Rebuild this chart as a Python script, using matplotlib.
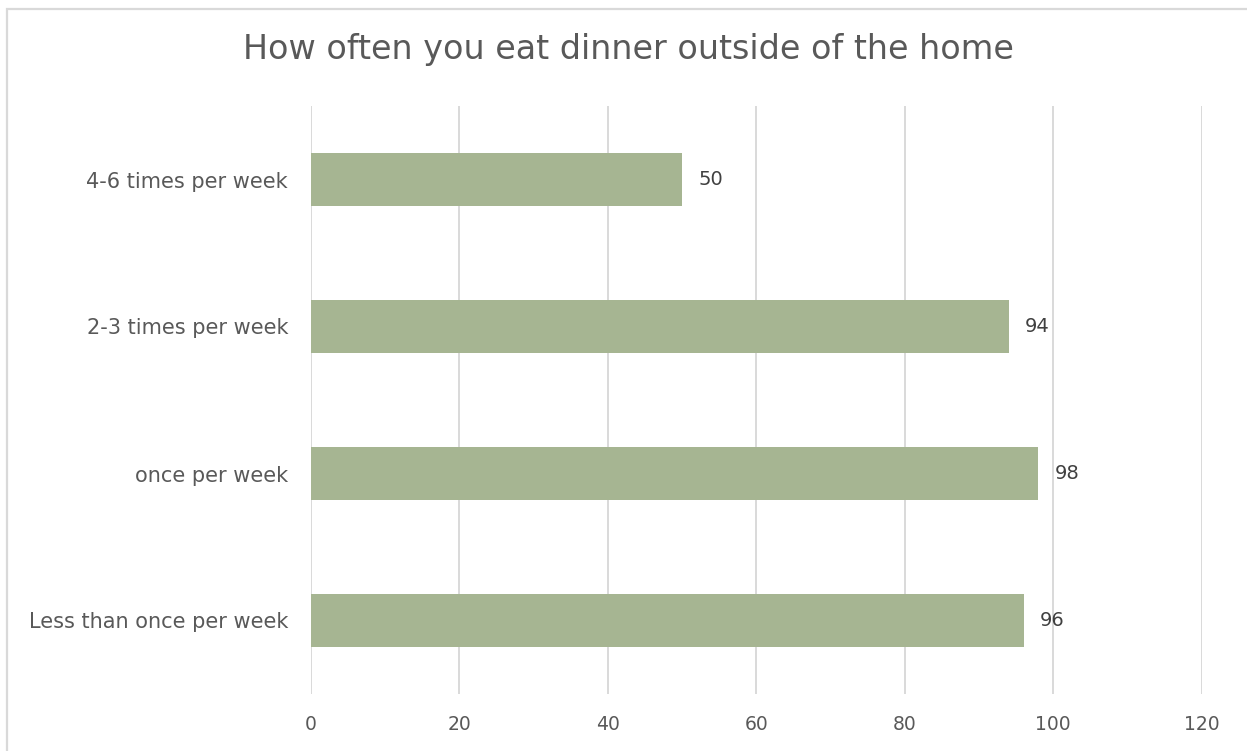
import numpy as np
import matplotlib.pyplot as plt
from matplotlib.patches import Rectangle

# Survey: frequency of eating dinner away from home
categories = ["4-6 times per week", "2-3 times per week", "once per week", "Less than once per week"]
counts = [50, 94, 98, 96]
x_ticks = [0, 20, 40, 60, 80, 100, 120]

W, H = 1247, 751
fig = plt.figure(figsize=(W / 100, H / 100), dpi=100)
plt.rcParams['font.family'] = ['DejaVu Sans']

# light frame around the chart area
fig.patches.append(Rectangle((7 / W, -0.1), 1.2, (H - 9) / H + 0.1, transform=fig.transFigure,
                             fill=False, edgecolor='#d9d9d9', linewidth=1.6))

ax = fig.add_axes([311 / W, (H - 694) / H, (1201.7 - 311) / W, (694 - 106) / H])

y = np.arange(len(categories))
ax.barh(y, counts, height=0.354, color='#a6b592', zorder=3)
for yi, v in zip(y, counts):
    ax.text(v + 2.2, yi, str(v), va='center', ha='left', fontsize=14, color='#404040')

ax.set_xlim(0, 120)
ax.set_ylim(len(categories) - 0.5, -0.5)
ax.set_xticks(x_ticks)
ax.set_yticks(y)
ax.set_yticklabels(categories)
ax.tick_params(axis='both', length=0, labelsize=13.5, colors='#595959')
ax.tick_params(axis='y', labelsize=15, pad=16.5)
ax.tick_params(axis='x', pad=15)
ax.grid(axis='x', color='#d9d9d9', linewidth=1.4, zorder=0)
for s in ax.spines.values():
    s.set_visible(False)

fig.text(628 / W, 1 - 50 / H, "How often you eat dinner outside of the home", ha='center', va='center',
         fontsize=24, color='#595959')

fig.savefig("out.png", dpi=100)
